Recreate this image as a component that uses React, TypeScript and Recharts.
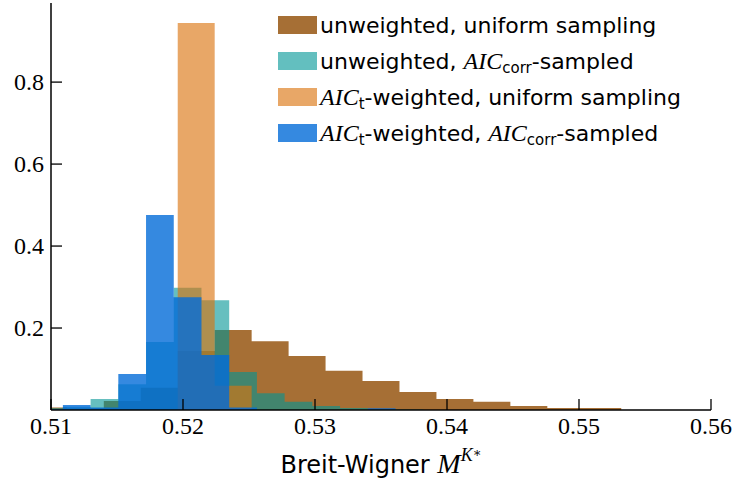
import React from "react";
import { ComposedChart, Area, XAxis, YAxis, Legend } from "recharts";

// axis ticks
const xTicks = [0.51, 0.52, 0.53, 0.54, 0.55, 0.56];
const yTicks = [0.2, 0.4, 0.6, 0.8];

// bin edges for the uniformly sampled fits
const uniformEdges = [
  0.5084, 0.5112, 0.514, 0.5168, 0.5196, 0.5224, 0.5252, 0.528, 0.5308,
  0.5336, 0.5364, 0.5392, 0.542, 0.5448, 0.5476, 0.5504, 0.5532,
];
const unweightedUniform = [
  0.006, 0.004, 0.022, 0.054, 0.144, 0.195, 0.168, 0.132, 0.096, 0.071, 0.044,
  0.027, 0.02, 0.01, 0.005, 0.005,
];
const weightedUniform = [0, 0, 0, 0, 0.944, 0.059, 0, 0, 0, 0, 0, 0, 0, 0, 0, 0];

// bin edges for the AIC_corr sampled fits
const aicEdges = [
  0.5088, 0.5109, 0.513, 0.5151, 0.5172, 0.5193, 0.5214, 0.5235, 0.5256,
  0.5277, 0.5298, 0.5319, 0.534, 0.5361, 0.5382,
];
const unweightedAic = [
  0.004, 0.008, 0.027, 0.063, 0.166, 0.298, 0.268, 0.093, 0.041, 0.02, 0.01,
  0.005, 0.002, 0.001,
];
const weightedAic = [
  0.002, 0.012, 0.006, 0.088, 0.476, 0.275, 0.134, 0.006, 0, 0, 0, 0, 0.004, 0,
];

// step points: each bin starts at its left edge, last edge closes to 0
const toSteps = (edges: number[], heights: number[]) =>
  edges.map((x, i) => ({ x, y: i < heights.length ? heights[i] : 0 }));

const SERIF = "'Liberation Serif', 'DejaVu Serif', serif";
const SANS = "'DejaVu Sans', sans-serif";
const TICK_LEN = 11;

const Aic = ({ sub }: { sub: string }) => (
  <>
    <i style={{ fontFamily: SERIF, fontSize: 24 }}>AIC</i>
    <span style={{ fontSize: 15, verticalAlign: "-0.25em", lineHeight: 0 }}>{sub}</span>
  </>
);

const series = [
  {
    key: "uu",
    data: toSteps(uniformEdges, unweightedUniform),
    fill: "#a66f35",
    opacity: 1,
    swatch: "#a66f35",
    label: <>unweighted, uniform sampling</>,
  },
  {
    key: "ua",
    data: toSteps(aicEdges, unweightedAic),
    fill: "#009494",
    opacity: 0.6,
    swatch: "#63bfbf",
    label: (
      <>
        unweighted, <Aic sub="corr" />-sampled
      </>
    ),
  },
  {
    key: "wu",
    data: toSteps(uniformEdges, weightedUniform),
    fill: "#da730e",
    opacity: 0.63,
    swatch: "#e8a767",
    label: (
      <>
        <Aic sub="t" />-weighted, uniform sampling
      </>
    ),
  },
  {
    key: "wa",
    data: toSteps(aicEdges, weightedAic),
    fill: "#026bd8",
    opacity: 0.8,
    swatch: "#3589e0",
    label: (
      <>
        <Aic sub="t" />-weighted, <Aic sub="corr" />-sampled
      </>
    ),
  },
];

// ticks point into the plot, labels sit outside
const XTick = (props: any) => {
  const { x, y, payload } = props;
  return (
    <g>
      <line x1={x} x2={x} y1={y} y2={y - TICK_LEN} stroke="#000" strokeWidth={1.3} />
      <text x={x} y={y + 24} textAnchor="middle" fontFamily={SERIF} fontSize={24} fill="#000">
        {Number(payload.value).toFixed(2)}
      </text>
    </g>
  );
};

const YTick = (props: any) => {
  const { x, y, payload } = props;
  return (
    <g>
      <line x1={x} x2={x + TICK_LEN} y1={y} y2={y} stroke="#000" strokeWidth={1.3} />
      <text x={x - 7} y={y + 8} textAnchor="end" fontFamily={SERIF} fontSize={24} fill="#000">
        {String(payload.value)}
      </text>
    </g>
  );
};

const XLabel = (props: any) => {
  const { viewBox } = props;
  const cx = viewBox.x + viewBox.width / 2;
  return (
    <text x={cx} y={viewBox.y + 63} textAnchor="middle" fill="#000" fontSize={24}>
      <tspan fontFamily={SANS}>Breit-Wigner </tspan>
      <tspan fontFamily={SERIF} fontStyle="italic" fontSize={28}>M</tspan>
      <tspan fontFamily={SERIF} fontStyle="italic" fontSize={18} dy={-12}>K</tspan>
      <tspan fontFamily={SERIF} fontSize={13} dy={-4}>∗</tspan>
    </text>
  );
};

const LegendBox = () => (
  <div style={{ fontFamily: SANS, fontSize: 22, color: "#000" }}>
    {series.map((s) => (
      <div key={s.key} style={{ display: "flex", alignItems: "center", height: 36, whiteSpace: "nowrap" }}>
        <span style={{ display: "inline-block", width: 39, height: 18, background: s.swatch, marginRight: 3 }} />
        <span>{s.label}</span>
      </div>
    ))}
  </div>
);

export default function App() {
  return (
    <div style={{ position: "absolute", left: 0, top: 0, background: "#fff" }}>
      <ComposedChart width={739} height={486} margin={{ top: 3, right: 28, left: 0, bottom: 0 }}>
        {series.map((s) => (
          <Area
            key={s.key}
            data={s.data}
            dataKey="y"
            type="stepAfter"
            stroke="none"
            strokeWidth={0}
            fill={s.fill}
            fillOpacity={s.opacity}
            dot={false}
            activeDot={false}
            baseValue={0}
            isAnimationActive={false}
          />
        ))}
        <XAxis
          type="number"
          dataKey="x"
          domain={[0.51, 0.56]}
          allowDataOverflow
          ticks={xTicks}
          interval={0}
          height={76}
          tickSize={0}
          tickMargin={0}
          tick={<XTick />}
          axisLine={{ stroke: "#000", strokeWidth: 1.5 }}
          label={<XLabel />}
        />
        <YAxis
          type="number"
          domain={[0, 0.993]}
          allowDataOverflow
          ticks={yTicks}
          interval={0}
          width={51}
          tickSize={0}
          tickMargin={0}
          tick={<YTick />}
          axisLine={{ stroke: "#000", strokeWidth: 1.5 }}
        />
        <Legend
          layout="vertical"
          align="center"
          verticalAlign="middle"
          content={<LegendBox />}
          wrapperStyle={{ left: 278, top: 7, width: "auto", height: "auto" }}
        />
      </ComposedChart>
    </div>
  );
}
